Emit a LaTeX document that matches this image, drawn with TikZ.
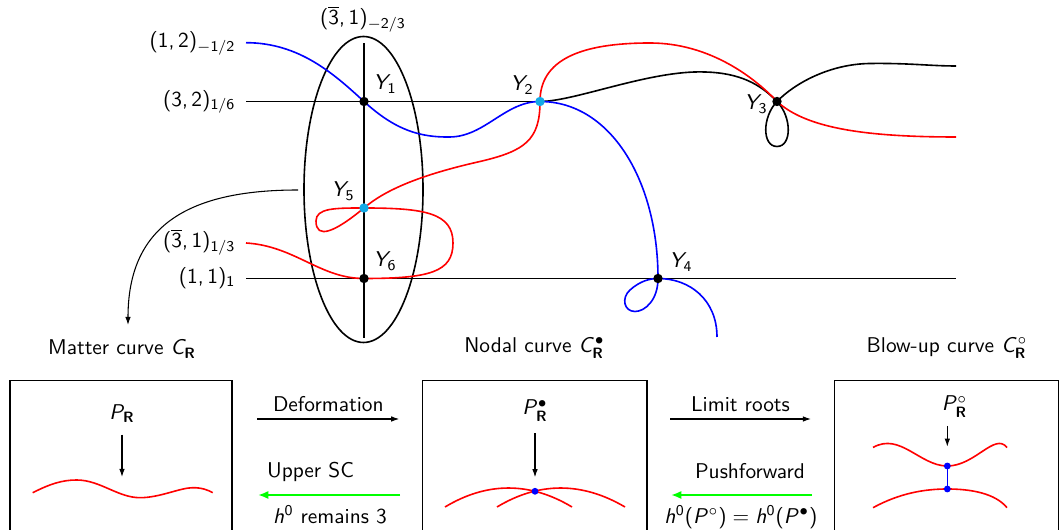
\documentclass[tikz,border=0pt]{standalone}
\usetikzlibrary{arrows.meta}
\DeclareSymbolFont{sfletters}{OT1}{cmss}{m}{sl}
\DeclareSymbolFont{sfops}{OT1}{cmss}{m}{n}
\DeclareMathAlphabet{\mathbf}{OT1}{cmss}{bx}{n}
\DeclareMathSymbol{C}{\mathalpha}{sfletters}{`C}
\DeclareMathSymbol{P}{\mathalpha}{sfletters}{`P}
\DeclareMathSymbol{Y}{\mathalpha}{sfletters}{`Y}
\DeclareMathSymbol{h}{\mathalpha}{sfletters}{`h}
\DeclareMathSymbol{0}{\mathalpha}{sfops}{`0}
\DeclareMathSymbol{1}{\mathalpha}{sfops}{`1}
\DeclareMathSymbol{2}{\mathalpha}{sfops}{`2}
\DeclareMathSymbol{3}{\mathalpha}{sfops}{`3}
\DeclareMathSymbol{4}{\mathalpha}{sfops}{`4}
\DeclareMathSymbol{5}{\mathalpha}{sfops}{`5}
\DeclareMathSymbol{6}{\mathalpha}{sfops}{`6}
\DeclareMathSymbol{(}{\mathopen}{sfops}{`(}
\DeclareMathSymbol{)}{\mathclose}{sfops}{`)}
\DeclareMathSymbol{,}{\mathpunct}{sfops}{`,}
\DeclareMathSymbol{/}{\mathord}{sfops}{`/}
\DeclareMathSymbol{=}{\mathrel}{sfops}{`=}
\definecolor{dotcyan}{RGB}{20,170,230}
\definecolor{pushgreen}{RGB}{0,255,0}
\begin{document}
\begin{tikzpicture}[x=0.468pt,y=-0.468pt,font=\sffamily,
  curve/.style={line width=0.75pt},
  ydot/.style={radius=2.2pt},
  bdot/.style={radius=1.6pt},
  lab/.style={inner sep=1pt},
  thinarrow/.style={-{Latex[length=3.8pt,width=2.6pt]},line width=0.5pt},
  greenarrow/.style={-{Latex[length=4.8pt,width=3.8pt]},line width=1pt,draw=pushgreen},
  framebox/.style={line width=0.6pt}]
\useasboundingbox (0,0) rectangle (1060,530);

% ---------- key points ----------
\coordinate (Y1) at (364,101.5);
\coordinate (Y2) at (540,101.5);
\coordinate (Y3) at (777,101.5);
\coordinate (Y4) at (658,278.5);
\coordinate (Y5) at (364,208);
\coordinate (Y6) at (364,278.5);
\coordinate (a1) at (246,101.5);
\coordinate (b1) at (246,278.5);
\coordinate (b2) at (956,278.5);
\coordinate (v1) at (364,43.3);
\coordinate (v2) at (364,338);
\coordinate (E)  at (363.5,189.5);
\coordinate (bl) at (246,42.7);
\coordinate (rl) at (246,243);
\coordinate (bkend) at (956,66);
\coordinate (rend) at (956,137);
\coordinate (blend) at (717,337);

% ---------- black curves ----------
\draw[curve] (E) ellipse [x radius=27.85pt, y radius=71.6pt];
\draw[curve] (v1) -- (v2);
\draw[curve] (a1) -- (Y2);
\draw[curve] (b1) -- (b2);
\draw[curve] (Y2) .. controls (575,101.5) and (650,70) .. (705,72)
  .. controls (740,73) and (760,84) .. (Y3)
  .. controls (792,117) and (792,146.5) .. (777,146.5)
  .. controls (762,146.5) and (762,117) .. (Y3)
  .. controls (795,83) and (830,64) .. (870,63.5)
  .. controls (910,63) and (930,66) .. (bkend);

% ---------- red curve ----------
\draw[curve,red] (rl) .. controls (295,246) and (320,278.5) .. (Y6)
  .. controls (430,278.5) and (453,272) .. (453,243)
  .. controls (453,213) and (425,208) .. (Y5)
  .. controls (335,208) and (316,208) .. (316,221)
  .. controls (316,240) and (335,232) .. (Y5)
  .. controls (385,190) and (420,175) .. (480,161.5)
  .. controls (525,151) and (540,140) .. (Y2)
  .. controls (540,60) and (580,43) .. (650,43)
  .. controls (710,43) and (755,78) .. (Y3)
  .. controls (805,127) and (860,137) .. (rend);

% ---------- blue curve ----------
\draw[curve,blue] (bl) .. controls (300,42.7) and (335,75) .. (Y1)
  .. controls (395,130) and (420,137.5) .. (450,137)
  .. controls (485,136.5) and (505,101.5) .. (Y2)
  .. controls (610,101.5) and (658,180) .. (Y4)
  .. controls (658,300) and (645,311.5) .. (635,311.5)
  .. controls (624,311.5) and (621,298) .. (630,290)
  .. controls (640,281) and (650,278.5) .. (Y4)
  .. controls (690,278.5) and (717,300) .. (blend);

% ---------- points ----------
\foreach \p in {Y1,Y3,Y4,Y6} \fill (\p) circle[ydot];
\foreach \p in {Y2,Y5} \fill[dotcyan] (\p) circle[ydot];

\node (lY1) at (385,84) {$Y_1$};
\node (lY2) at (522,85) {$Y_2$};
\node (lY3) at (756,104) {$Y_3$};
\node (lY4) at (681,262) {$Y_4$};
\node (lY5) at (343,191) {$Y_5$};
\node (lY6) at (385,261) {$Y_6$};

\node[lab,anchor=mid] (q0) at (363,20) {$(\overline{3},1)_{-2/3}$};
\node[lab,anchor=mid east] (q1) at (238,42.7) {$(1,2)_{-1/2}$};
\node[lab,anchor=mid east] (q2) at (238,101.5) {$(3,2)_{1/6}$};
\node[lab,anchor=mid east] (q3) at (238,243) {$(\overline{3},1)_{1/3}$};
\node[lab,anchor=mid east] (q4) at (238,278.5) {$(1,1)_{1}$};

% matter curve pointer
\coordinate (m1) at (298,190);
\coordinate (m2) at (128,325);
\draw[thinarrow] (m1) .. controls (185,190) and (128,228) .. (m2);

\node[anchor=base] (mc) at (122,355) {Matter curve $C_{\mathbf R}$};
\node[anchor=base] (nc) at (534.5,352.5) {Nodal curve $C_{\mathbf R}^{\bullet}$};
\node[anchor=base] (bc) at (947,352.5) {Blow-up curve $C_{\mathbf R}^{\circ}$};

% ---------- bottom boxes ----------
\draw[framebox] (10,532) -- (10,380.7) -- (232,380.7) -- (232,532);
\draw[framebox] (422.7,532) -- (422.7,380.7) -- (647,380.7) -- (647,532);
\draw[framebox] (834.7,532) -- (834.7,380.7) -- (1058.7,380.7) -- (1058.7,532);

% box 1
\node[anchor=base] (PR) at (122,419.5) {$P_{\mathbf R}$};
\coordinate (p1a) at (122,434.7);
\coordinate (p1b) at (122,477);
\draw[thinarrow] (p1a) -- (p1b);
\draw[curve,red] (32.7,492.7) .. controls (50,484) and (62,480) .. (76.7,480)
  .. controls (100,480) and (118,497.7) .. (140,497.7)
  .. controls (160,497.7) and (180,487.7) .. (193,487.7)
  .. controls (202,487.7) and (208,490) .. (212.7,492.7);

% box 2
\node[anchor=base] (PB) at (535,415) {$P^{\bullet}_{\mathbf R}$};
\coordinate (p2a) at (535,433.3);
\coordinate (p2b) at (535,477.3);
\draw[thinarrow] (p2a) -- (p2b);
\coordinate (N) at (535,491.3);
\draw[curve,red] (445,507) .. controls (487,481.7) and (530,481.7) .. (572,507);
\draw[curve,red] (497,507) .. controls (539,481.7) and (582,481.7) .. (625,507);
\fill[blue] (N) circle[bdot];

% box 3
\node[anchor=base] (PC) at (954.5,411) {$P^{\circ}_{\mathbf R}$};
\coordinate (p3a) at (947.3,426);
\coordinate (p3b) at (947.3,446.7);
\draw[thinarrow] (p3a) -- (p3b);
\coordinate (U) at (947.3,466);
\coordinate (L) at (947.3,489);
\draw[curve,red] (873,447.5) .. controls (900,432) and (920,466) .. (U)
  .. controls (975,466) and (995,432) .. (1007,447.5);
\draw[curve,red] (873,507.7) .. controls (900,493) and (925,489) .. (L)
  .. controls (970,489) and (995,493) .. (1007,507.7);
\draw[curve,blue] (U) -- (L);
\fill[blue] (U) circle[bdot];
\fill[blue] (L) circle[bdot];

% ---------- arrows between boxes ----------
\coordinate (d1) at (257.4,419);
\coordinate (d2) at (399.3,419);
\draw[thinarrow] (d1) -- (d2) node[midway,above] (tdef) {Deformation};
\coordinate (l1) at (670,419);
\coordinate (l2) at (811,419);
\draw[thinarrow] (l1) -- (l2) node[midway,above] (tlim) {Limit roots};

\coordinate (g1) at (400,495);
\coordinate (g2) at (258,495);
\draw[greenarrow] (g1) -- (g2);
\node[anchor=base] (tup) at (310.5,478) {Upper SC};
\node[anchor=base] (th0) at (330,523.5) {$h^0$ remains 3};

\coordinate (g3) at (812,495);
\coordinate (g4) at (671,495);
\draw[greenarrow] (g3) -- (g4);
\node[anchor=base] (tpush) at (750,479) {Pushforward};
\node[anchor=base] (teq) at (741,523.5) {$h^0(P^{\circ})=h^0(P^{\bullet})$};
\end{tikzpicture}
\end{document}
